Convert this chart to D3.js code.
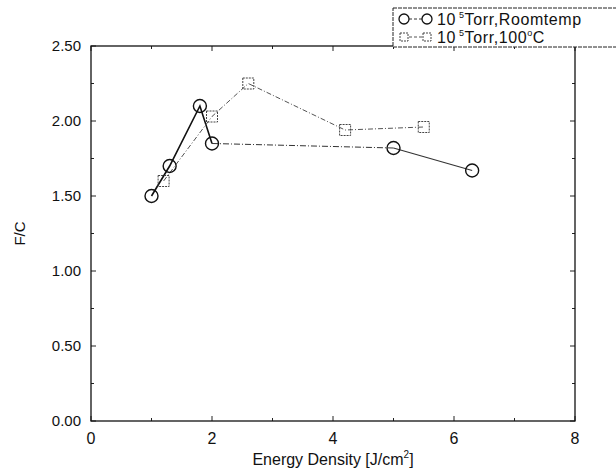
<!DOCTYPE html>
<html>
<head>
<meta charset="utf-8">
<script src="https://cdn.jsdelivr.net/npm/d3@7"></script>
<style>
  body { margin: 0; background: #fff; }
  text { font-family: "Liberation Sans", Arial, sans-serif; fill: #111; }
</style>
</head>
<body>
<div id="main"></div>
<script>
/* Define Size */
const width = 616, height = 471;
const margin = {top: 46, right: 41, bottom: 50, left: 91};

/* Define Data */
const roomX = [1.0, 1.3, 1.8, 2.0, 5.0, 6.3];
const roomY = [1.50, 1.70, 2.10, 1.85, 1.82, 1.67];
const hotX = [1.2, 2.0, 2.6, 4.2, 5.5];
const hotY = [1.60, 2.03, 2.25, 1.94, 1.96];
const xTicks = [0, 2, 4, 6, 8];
const yTicks = [0, 0.5, 1.0, 1.5, 2.0, 2.5];
const legendNames = ["Torr,Roomtemp", "Torr,100"];

const svg = d3.select("#main").append("svg").attr("width", width).attr("height", height);

const x = d3.scaleLinear().domain([0, 8]).range([margin.left, width - margin.right]);
const y = d3.scaleLinear().domain([0, 2.5]).range([height - margin.bottom, margin.top]);

/* ticks, inward on all four sides */
const g = svg.append("g");
const tickLen = 5, minorLen = 3;
d3.range(0, 8.01, 1).forEach(v => {
  const len = v % 2 === 0 ? tickLen : minorLen;
  g.append("line").attr("x1", x(v)).attr("x2", x(v)).attr("y1", y(0)).attr("y2", y(0) - len).attr("stroke", "#222");
  g.append("line").attr("x1", x(v)).attr("x2", x(v)).attr("y1", y(2.5)).attr("y2", y(2.5) + len).attr("stroke", "#222");
});
d3.range(0, 2.51, 0.25).forEach(v => {
  const len = Math.abs(v * 2 - Math.round(v * 2)) < 1e-6 ? tickLen : minorLen;
  g.append("line").attr("y1", y(v)).attr("y2", y(v)).attr("x1", x(0)).attr("x2", x(0) + len).attr("stroke", "#222");
  g.append("line").attr("y1", y(v)).attr("y2", y(v)).attr("x1", x(8)).attr("x2", x(8) - len).attr("stroke", "#222");
});

/* frame */
svg.append("rect")
  .attr("x", x(0)).attr("y", y(2.5))
  .attr("width", x(8) - x(0)).attr("height", y(0) - y(2.5))
  .attr("fill", "none").attr("stroke", "#111").attr("stroke-width", 1.3);

/* tick labels */
svg.selectAll(".xl").data(xTicks).enter().append("text")
  .attr("x", d => x(d)).attr("y", y(0) + 23)
  .attr("text-anchor", "middle").style("font-size", "16px")
  .text(d => d);
svg.selectAll(".yl").data(yTicks).enter().append("text")
  .attr("x", x(0) - 10).attr("y", d => y(d) + 5)
  .attr("text-anchor", "end").style("font-size", "15px")
  .text(d => d.toFixed(2));

/* axis titles */
const xt = svg.append("text").attr("x", 333).attr("y", 465)
  .attr("text-anchor", "middle").style("font-size", "16px");
xt.append("tspan").text("Energy Density [J/cm");
xt.append("tspan").attr("dy", -7).style("font-size", "10px").text("2");
xt.append("tspan").attr("dy", 7).text("]");

svg.append("text")
  .attr("transform", `translate(25,${y(1.25)}) rotate(-90)`)
  .attr("text-anchor", "middle").style("font-size", "15px")
  .text("F/C");

/* series lines */
const line = d3.line().x(d => x(d[0])).y(d => y(d[1]));
const room = roomX.map((v, i) => [v, roomY[i]]);
const hot = hotX.map((v, i) => [v, hotY[i]]);

// first four room-temp points joined by a solid line
svg.append("path").attr("d", line(room.slice(0, 4)))
  .attr("fill", "none").attr("stroke", "#111").attr("stroke-width", 1.6);
svg.append("path").attr("d", line(room.slice(3, 5)))
  .attr("fill", "none").attr("stroke", "#333").attr("stroke-width", 1).attr("stroke-dasharray", "6,2,1,2");
svg.append("path").attr("d", line(room.slice(4)))
  .attr("fill", "none").attr("stroke", "#333").attr("stroke-width", 1.1);

svg.append("path").attr("d", line(hot))
  .attr("fill", "none").attr("stroke", "#555").attr("stroke-width", 1).attr("stroke-dasharray", "5,2,1,2");

/* markers */
svg.selectAll(".c").data(room).enter().append("circle")
  .attr("cx", d => x(d[0])).attr("cy", d => y(d[1])).attr("r", 6.5)
  .attr("fill", "none").attr("stroke", "#111").attr("stroke-width", 1.4);
svg.selectAll(".s").data(hot).enter().append("rect")
  .attr("x", d => x(d[0]) - 5.5).attr("y", d => y(d[1]) - 5.5)
  .attr("width", 11).attr("height", 11)
  .attr("fill", "none").attr("stroke", "#444").attr("stroke-width", 1).attr("stroke-dasharray", "2,1");

/* legend */
const lg = svg.append("g");
lg.append("rect").attr("x", 393).attr("y", 8).attr("width", 230).attr("height", 39)
  .attr("fill", "#fff").attr("stroke", "#222").attr("stroke-width", 1).attr("stroke-dasharray", "4,1");
const rows = [19, 37];
lg.append("line").attr("x1", 404).attr("x2", 427).attr("y1", rows[0]).attr("y2", rows[0])
  .attr("stroke", "#333").attr("stroke-dasharray", "3,2");
lg.append("circle").attr("cx", 404).attr("cy", rows[0]).attr("r", 5).attr("fill", "#fff").attr("stroke", "#111").attr("stroke-width", 1.3);
lg.append("circle").attr("cx", 427).attr("cy", rows[0]).attr("r", 5).attr("fill", "#fff").attr("stroke", "#111").attr("stroke-width", 1.3);
lg.append("line").attr("x1", 404).attr("x2", 427).attr("y1", rows[1]).attr("y2", rows[1])
  .attr("stroke", "#555").attr("stroke-dasharray", "3,2");
lg.append("rect").attr("x", 400).attr("y", rows[1] - 4).attr("width", 8).attr("height", 8).attr("fill", "#fff").attr("stroke", "#444").attr("stroke-dasharray", "2,1");
lg.append("rect").attr("x", 423).attr("y", rows[1] - 4).attr("width", 8).attr("height", 8).attr("fill", "#fff").attr("stroke", "#444").attr("stroke-dasharray", "2,1");

legendNames.forEach((name, i) => {
  const t = lg.append("text").attr("x", 437).attr("y", rows[i] + 6)
    .style("font-size", "16px").style("letter-spacing", "0.6px");
  t.append("tspan").text("10");
  t.append("tspan").attr("dx", 3).attr("dy", -7).style("font-size", "9px").text("5");
  t.append("tspan").attr("dy", 7).text(name);
  if (i === 1) {
    t.append("tspan").attr("dy", -7).style("font-size", "9px").text("o");
    t.append("tspan").attr("dy", 7).text("C");
  }
});
</script>
</body>
</html>
